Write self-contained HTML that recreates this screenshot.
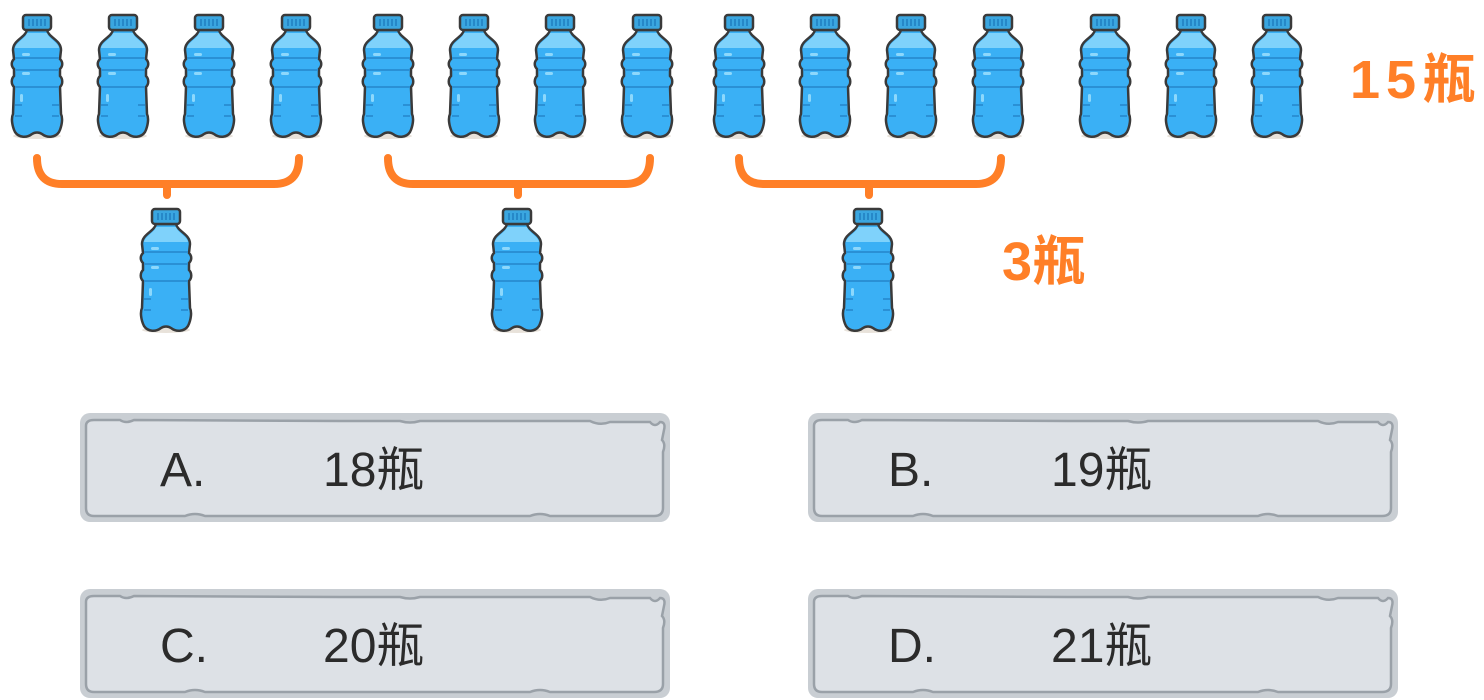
<!DOCTYPE html>
<html><head><meta charset="utf-8"><style>
html,body{margin:0;padding:0;background:#fff;}
svg{display:block;}
</style></head><body>
<svg width="1484" height="700" viewBox="0 0 1484 700" xmlns="http://www.w3.org/2000/svg">
<defs>
<g id="b">
<ellipse cx="0" cy="122" rx="24" ry="3" fill="#e8e2da"/>
<path d="M-10,16 L10,16 C12,24 24,26 24,36 L23,45 C26,48 26,52 23,55 L23,62 C26,65 26,70 23,73 L24,100 C26,104 25,112 22,118 C18,124 10,124 5,120 C2,118 -2,118 -5,120 C-10,124 -18,124 -22,118 C-25,112 -26,104 -24,100 L-23,73 C-26,70 -26,65 -23,62 L-23,55 C-26,52 -26,48 -23,45 L-24,36 C-24,26 -12,24 -10,16 Z" fill="#3ab0f5" stroke="#3a3a3a" stroke-width="2.5"/>
<path d="M-10,19 L10,19 C12,25 21,28 22,34 L-22,34 C-21,28 -12,25 -10,19Z" fill="#7fd2fb"/>
<path d="M-22,44 L22,44 M-22,56 L22,56 M-22,73 L22,73" stroke="#2a90d5" stroke-width="2"/>
<path d="M-22,91 L-15,91 M15,91 L22,91 M-22,102 L-15,102 M15,102 L22,102" stroke="#2a90d5" stroke-width="2"/>
<rect x="-15" y="39" width="8" height="3" rx="1.5" fill="#8dd8fc"/>
<rect x="-15" y="58" width="8" height="3" rx="1.5" fill="#8dd8fc"/>
<rect x="-17" y="80" width="3" height="8" rx="1.5" fill="#8dd8fc"/>
<rect x="-14" y="1" width="28" height="15" rx="3" fill="#3aa6e0" stroke="#3a3a3a" stroke-width="2.5"/>
<path d="M-8,5 V12 M-4,5 V12 M0,5 V12 M4,5 V12 M8,5 V12" stroke="#1f7fc0" stroke-width="1.5"/>
</g>
<g id="box">
<rect x="0" y="1" width="590" height="109" rx="10" fill="#c9ced3"/>
<path d="M6,14 Q6,8 14,8 L40,8 Q46,12 54,8 L260,9 L320,9 Q330,12 340,9 L510,9 Q520,14 530,10 L570,10 Q575,16 580,10 Q586,10 584,18 L582,28 Q586,32 583,40 L583,96 Q583,104 574,104 L470,104 Q460,100 450,104 L125,104 Q115,100 105,104 L14,104 Q6,104 6,96 Z" fill="#dde1e6" stroke="#9aa1a8" stroke-width="2.5"/>
</g>
</defs>
<g>
<use href="#b" x="37" y="14"/><use href="#b" x="123" y="14"/><use href="#b" x="209" y="14"/><use href="#b" x="296" y="14"/>
<use href="#b" x="388" y="14"/><use href="#b" x="474" y="14"/><use href="#b" x="560" y="14"/><use href="#b" x="647" y="14"/>
<use href="#b" x="739" y="14"/><use href="#b" x="825" y="14"/><use href="#b" x="911" y="14"/><use href="#b" x="998" y="14"/>
<use href="#b" x="1105" y="14"/><use href="#b" x="1191" y="14"/><use href="#b" x="1277" y="14"/>
<use href="#b" x="166" y="208"/><use href="#b" x="517" y="208"/><use href="#b" x="868" y="208"/>
</g>
<g fill="none" stroke="#ff7f27" stroke-width="8" stroke-linecap="round">
<path d="M37,158 Q37,184 62,184 L274,184 Q299,184 299,158 M167,184 V195"/>
<path d="M388,158 Q388,184 413,184 L625,184 Q650,184 650,158 M518,184 V195"/>
<path d="M739,158 Q739,184 764,184 L976,184 Q1001,184 1001,158 M869,184 V195"/>
</g>
<g font-family="'Liberation Sans','Noto Sans CJK SC',sans-serif" font-weight="bold" fill="#ff7f27" font-size="54">
<text x="1350" y="98" letter-spacing="6">15瓶</text>
<text x="1002" y="280">3瓶</text>
</g>
<use href="#box" x="80" y="412"/><use href="#box" x="808" y="412"/>
<use href="#box" x="80" y="588"/><use href="#box" x="808" y="588"/>
<g font-family="'Liberation Sans','Noto Sans CJK SC',sans-serif" fill="#2b2b2b" font-size="48">
<text x="160" y="486">A.</text><text x="323" y="486">18瓶</text>
<text x="888" y="486">B.</text><text x="1051" y="486">19瓶</text>
<text x="160" y="662">C.</text><text x="323" y="662">20瓶</text>
<text x="888" y="662">D.</text><text x="1051" y="662">21瓶</text>
</g>
</svg>
</body></html>
